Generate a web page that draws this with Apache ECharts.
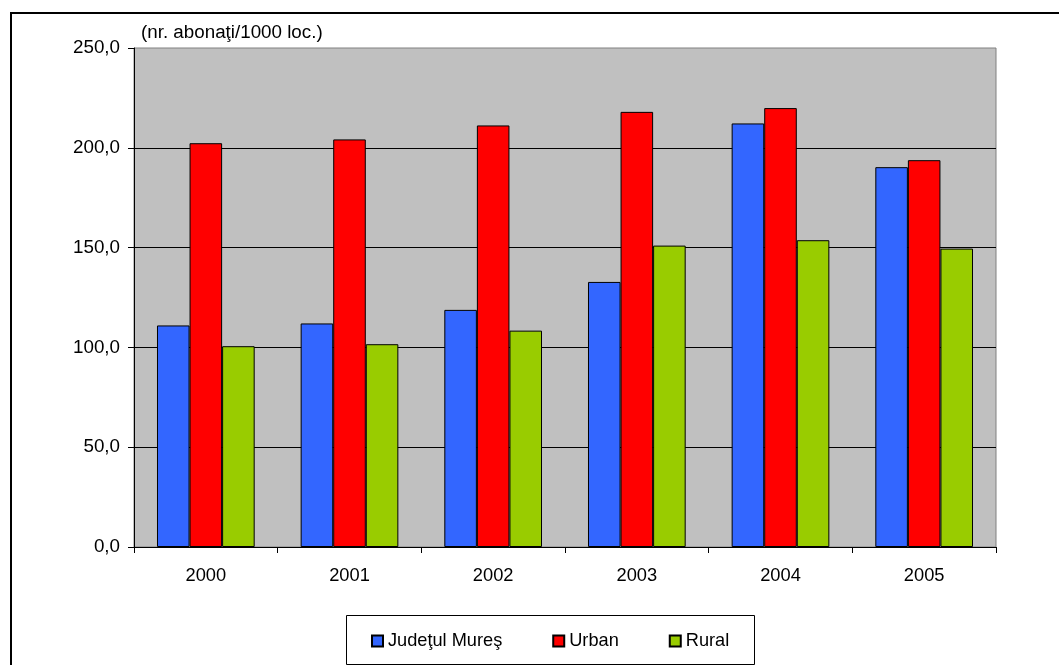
<!DOCTYPE html>
<html>
<head>
<meta charset="utf-8">
<script src="https://cdn.jsdelivr.net/npm/echarts@6/dist/echarts.min.js"></script>
<style>
  html, body { margin: 0; padding: 0; background: #fff; }
  #chart { width: 1059px; height: 665px; }
</style>
</head>
<body>
<div id="chart"></div>
<script>
// Subscribers per 1000 inhabitants, Mureş county, 2000–2005
const years = ['2000', '2001', '2002', '2003', '2004', '2005'];
const judetMures = [111.0, 112.0, 118.8, 132.8, 212.2, 190.3];
const urban = [202.3, 204.2, 211.2, 218.0, 219.9, 193.8];
const rural = [100.6, 101.6, 108.4, 151.0, 153.7, 149.5];
const seriesNames = ['Judeţul Mureş', 'Urban', 'Rural'];
const unitLabel = '(nr. abonaţi/1000 loc.)';

const FONT = '"Liberation Sans", Arial, sans-serif';
const colors = ['#3366FF', '#FF0000', '#99CC00'];

const chart = echarts.init(document.getElementById('chart'), null, { renderer: 'canvas' });

function barSeries(name, data, color) {
  return {
    name: name,
    type: 'bar',
    data: data,
    barGap: '0%',
    barCategoryGap: '32%',
    itemStyle: { color: color, borderColor: '#000', borderWidth: 1 }
  };
}

chart.setOption({
  animation: false,
  backgroundColor: '#fff',
  textStyle: { fontFamily: FONT },
  graphic: [
    {
      type: 'rect',
      shape: { x: 11, y: 13, width: 1100, height: 700 },
      style: { fill: 'none', stroke: '#000', lineWidth: 2 },
      z: 0
    },
    {
      type: 'rect',
      shape: { x: 346.5, y: 615.5, width: 408, height: 49 },
      style: { fill: '#fff', stroke: '#000', lineWidth: 1 },
      z: 0
    },
    {
      type: 'text',
      x: 141,
      y: 32.5,
      style: {
        text: unitLabel,
        font: '18.8px ' + FONT,
        fill: '#000',
        verticalAlign: 'middle',
        align: 'left'
      },
      z: 5
    }
  ],
  grid: {
    left: 134,
    right: 63,
    top: 48,
    bottom: 118,
    show: true,
    backgroundColor: '#C0C0C0',
    borderColor: '#808080',
    borderWidth: 1,
    containLabel: false
  },
  legend: {
    data: seriesNames,
    left: 371,
    top: 632,
    padding: 0,
    itemWidth: 11,
    itemHeight: 11,
    itemGap: 50,
    icon: 'rect',
    textStyle: { fontFamily: FONT, fontSize: 18.2, color: '#000' },
    z: 5
  },
  xAxis: {
    type: 'category',
    data: years,
    axisLine: { show: true, lineStyle: { color: '#000', width: 1 } },
    axisTick: { show: true, length: 6, lineStyle: { color: '#000' } },
    axisLabel: { color: '#000', fontSize: 18.3, margin: 20, fontFamily: FONT },
    splitLine: { show: false }
  },
  yAxis: {
    type: 'value',
    min: 0,
    max: 250,
    interval: 50,
    axisLine: { show: true, lineStyle: { color: '#000', width: 1 } },
    axisTick: { show: true, length: 6, lineStyle: { color: '#000' } },
    axisLabel: {
      color: '#000',
      fontSize: 18.8,
      margin: 14,
      fontFamily: FONT,
      formatter: function (v) { return v.toFixed(1).replace('.', ','); }
    },
    splitLine: {
      show: true,
      showMinLine: false,
      showMaxLine: false,
      lineStyle: { color: '#000', width: 1 }
    }
  },
  series: [
    barSeries(seriesNames[0], judetMures, colors[0]),
    barSeries(seriesNames[1], urban, colors[1]),
    barSeries(seriesNames[2], rural, colors[2])
  ]
});
</script>
</body>
</html>
